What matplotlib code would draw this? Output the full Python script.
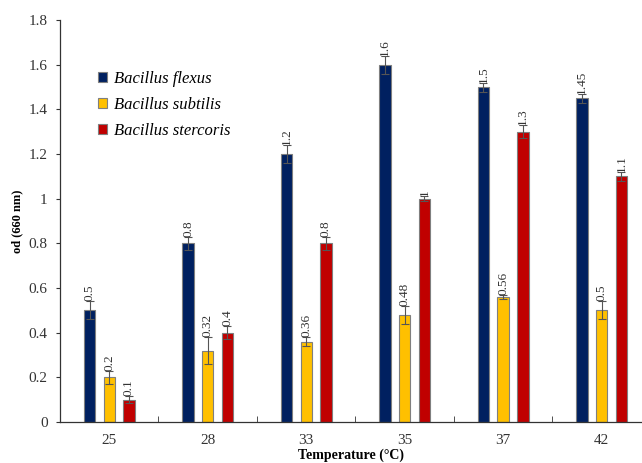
import matplotlib
matplotlib.use("Agg")
import matplotlib.pyplot as plt
import numpy as np
from matplotlib.ticker import FixedLocator, FuncFormatter

temps = ["25", "28", "33", "35", "37", "42"]
flexus = [0.5, 0.8, 1.2, 1.6, 1.5, 1.45]
subtilis = [0.2, 0.32, 0.36, 0.48, 0.56, 0.5]
stercoris = [0.1, 0.4, 0.8, 1.0, 1.3, 1.1]
flexus_err = [0.04, 0.03, 0.04, 0.04, 0.02, 0.02]
subtilis_err = [0.03, 0.06, 0.02, 0.04, 0.01, 0.04]
stercoris_err = [0.015, 0.03, 0.03, 0.01, 0.03, 0.02]
flexus_lbl = ["0.5", "0.8", "1.2", "1.6", "1.5", "1.45"]
subtilis_lbl = ["0.2", "0.32", "0.36", "0.48", "0.56", "0.5"]
stercoris_lbl = ["0.1", "0.4", "0.8", "1", "1.3", "1.1"]
names = ["Bacillus flexus", "Bacillus subtilis", "Bacillus stercoris"]
colors = ["#002060", "#FFC000", "#C00000"]

plt.rcParams["font.family"] = ["Liberation Serif", "DejaVu Serif"]

fig = plt.figure(figsize=(6.42, 4.63), dpi=100)
ax = fig.add_axes([0.0935, 0.0886, 0.9065, 0.868])

x = np.arange(len(temps))
w = 0.115
offsets = [-0.2, 0.0, 0.2]
series = [(flexus, flexus_err, flexus_lbl), (subtilis, subtilis_err, subtilis_lbl),
          (stercoris, stercoris_err, stercoris_lbl)]

for (vals, errs, lbls), off, col, name in zip(series, offsets, colors, names):
    ax.bar(x + off, vals, w, color=col, edgecolor="#7f7f7f", linewidth=0.8,
           label=name, zorder=2)
    ax.errorbar(x + off, vals, yerr=errs, fmt="none", ecolor="#555555",
                elinewidth=0.8, capsize=3, capthick=0.8, zorder=3)
    for xi, v, e, t in zip(x + off, vals, errs, lbls):
        ax.annotate(t, (xi, v + e), xytext=(0, 0), textcoords="offset points",
                    rotation=90, ha="center", va="bottom", fontsize=9.5,
                    color="#333333")

ax.set_xlim(-0.5, 5.41)
ax.set_ylim(0, 1.8)
ax.set_yticks(np.arange(0, 1.81, 0.2))
ax.yaxis.set_major_formatter(FuncFormatter(lambda v, p: f"{v:.1f}".rstrip("0").rstrip(".")))
ax.set_xticks(x)
ax.set_xticklabels(temps)
ax.xaxis.set_minor_locator(FixedLocator(np.arange(0.5, 5.5, 1.0)))
ax.tick_params(axis="x", which="major", length=0, labelsize=11, pad=9, colors="#333333")
ax.tick_params(axis="x", which="minor", length=4, direction="in", color="#333333")
ax.tick_params(axis="y", length=3, direction="out", labelsize=11, pad=6, colors="#333333")

for s in ["top", "right"]:
    ax.spines[s].set_visible(False)
for s in ["left", "bottom"]:
    ax.spines[s].set_color("#333333")
    ax.spines[s].set_linewidth(0.9)

ax.set_ylabel("od (660 nm)", fontsize=9, fontweight="bold", labelpad=4)
ax.set_xlabel("Temperature (°C)", fontsize=10, fontweight="bold", labelpad=1)

leg = ax.legend(loc="upper left", bbox_to_anchor=(0.04, 0.91), frameon=False,
                prop={"style": "italic", "size": 12}, handlelength=0.55,
                handleheight=0.55, handletextpad=0.4, labelspacing=0.6)

fig.savefig("out.png", dpi=100)
